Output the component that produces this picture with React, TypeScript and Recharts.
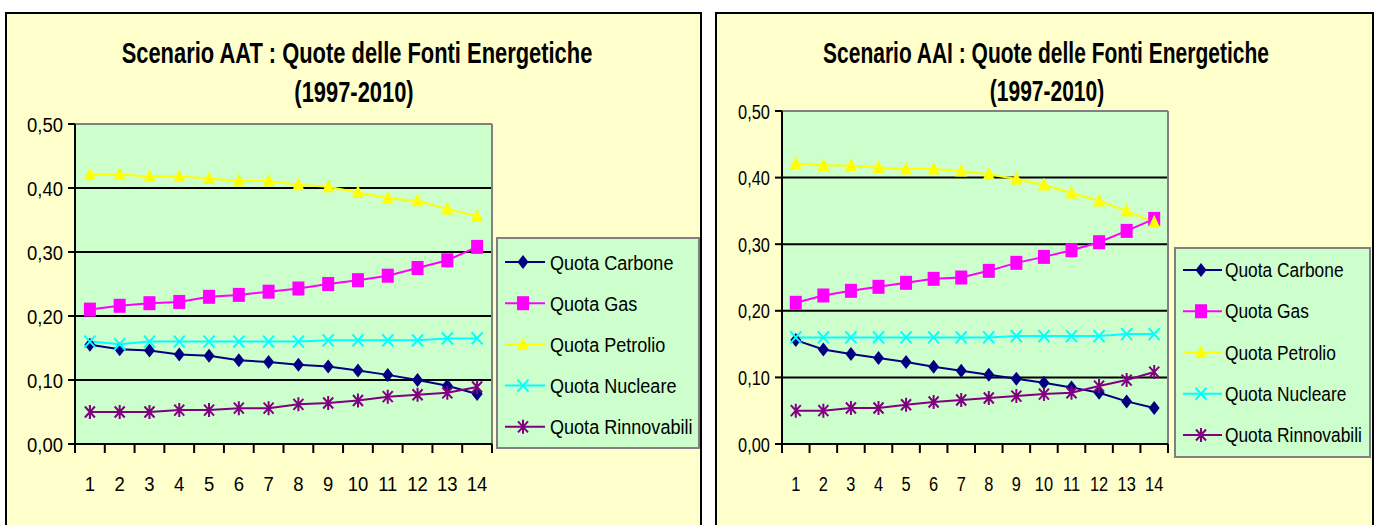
import React from 'react'
import {
  LineChart,
  Line,
  XAxis,
  YAxis,
  CartesianGrid,
  ReferenceLine,
} from 'recharts'

// 1997-2010, shown as period index
const PERIODS = [1, 2, 3, 4, 5, 6, 7, 8, 9, 10, 11, 12, 13, 14]
const BOUNDARIES = [0.5, ...PERIODS.map((p) => p + 0.5)]
const Y_TICKS = [0, 0.1, 0.2, 0.3, 0.4, 0.5]

const SERIES_NAMES = [
  'Quota Carbone',
  'Quota Gas',
  'Quota Petrolio',
  'Quota Nucleare',
  'Quota Rinnovabili',
]
const SERIES_COLORS = ['#000080', '#FF00FF', '#FFFF00', '#00FFFF', '#800080']
const SERIES_SHAPES = ['diamond', 'square', 'triangle', 'cross', 'star']

// Scenario AAT
const carboneAAT = [0.155, 0.148, 0.146, 0.14, 0.138, 0.131, 0.128, 0.124, 0.121, 0.115, 0.108, 0.1, 0.091, 0.078]
const gasAAT = [0.21, 0.216, 0.22, 0.222, 0.23, 0.233, 0.238, 0.243, 0.25, 0.256, 0.263, 0.275, 0.287, 0.308]
const petrolioAAT = [0.421, 0.421, 0.418, 0.418, 0.415, 0.411, 0.411, 0.405, 0.402, 0.393, 0.384, 0.38, 0.367, 0.356]
const nucleareAAT = [0.16, 0.156, 0.16, 0.16, 0.16, 0.16, 0.16, 0.16, 0.162, 0.162, 0.162, 0.162, 0.165, 0.165]
const rinnovabiliAAT = [0.05, 0.05, 0.05, 0.053, 0.053, 0.056, 0.056, 0.062, 0.064, 0.068, 0.074, 0.077, 0.08, 0.089]

// Scenario AAI
const carboneAAI = [0.156, 0.142, 0.135, 0.129, 0.123, 0.116, 0.11, 0.104, 0.098, 0.092, 0.085, 0.077, 0.064, 0.054]
const gasAAI = [0.212, 0.223, 0.23, 0.236, 0.242, 0.248, 0.25, 0.26, 0.272, 0.281, 0.291, 0.303, 0.32, 0.338]
const petrolioAAI = [0.421, 0.418, 0.418, 0.415, 0.413, 0.413, 0.41, 0.405, 0.398, 0.389, 0.377, 0.365, 0.35, 0.333]
const nucleareAAI = [0.16, 0.16, 0.16, 0.16, 0.16, 0.16, 0.16, 0.16, 0.162, 0.162, 0.162, 0.162, 0.165, 0.165]
const rinnovabiliAAI = [0.05, 0.05, 0.054, 0.054, 0.059, 0.063, 0.066, 0.069, 0.072, 0.075, 0.077, 0.087, 0.096, 0.108]

const FONT = '"Liberation Sans", Arial, sans-serif'
const KEYS = ['s0', 's1', 's2', 's3', 's4']

const buildData = (series: number[][]) =>
  PERIODS.map((p, i) => {
    const row: Record<string, number> = { x: p }
    series.forEach((s, k) => {
      row[KEYS[k]] = s[i]
    })
    return row
  })

const fmt = (v: number) => v.toFixed(2).replace('.', ',')

// squeezed text (the original picture is compressed horizontally)
function SqText({ x, y, fs, sx, anchor = 'start', bold = false, children }: any) {
  return (
    <text
      x={x}
      y={y}
      fontSize={fs}
      fontFamily={FONT}
      fontWeight={bold ? 'bold' : 'normal'}
      textAnchor={anchor}
      fill="#000"
      transform={`translate(${x} 0) scale(${sx} 1) translate(${-x} 0)`}
    >
      {children}
    </text>
  )
}

function Marker({ shape, cx, cy, color }: any) {
  if (cx == null || cy == null) return null
  switch (shape) {
    case 'diamond':
      return <polygon points={`${cx},${cy - 7} ${cx + 5.5},${cy} ${cx},${cy + 7} ${cx - 5.5},${cy}`} fill={color} />
    case 'square':
      return <rect x={cx - 6} y={cy - 7} width={12} height={14} fill={color} />
    case 'triangle':
      return <polygon points={`${cx},${cy - 7.5} ${cx + 6},${cy + 5.5} ${cx - 6},${cy + 5.5}`} fill={color} />
    case 'cross':
      return (
        <path
          d={`M${cx - 5.5},${cy - 6}L${cx + 5.5},${cy + 6}M${cx - 5.5},${cy + 6}L${cx + 5.5},${cy - 6}`}
          stroke={color}
          strokeWidth={2}
          fill="none"
        />
      )
    default:
      return (
        <path
          d={`M${cx - 5},${cy - 5.5}L${cx + 5},${cy + 5.5}M${cx - 5},${cy + 5.5}L${cx + 5},${cy - 5.5}M${cx},${cy - 7}L${cx},${cy + 7}`}
          stroke={color}
          strokeWidth={2}
          fill="none"
        />
      )
  }
}

interface PanelProps {
  left: number
  width: number
  plotLeft: number
  plotRight: number
  plotTop: number
  series: number[][]
  tickFs: number
  tickSx: number
}

function EnergyChart({ left, width, plotLeft, plotRight, plotTop, series, tickFs, tickSx }: PanelProps) {
  const data = buildData(series)
  const height = 525
  const plotBottom = 444
  const xAxisHeight = 60

  const YTick = ({ x, y, payload }: any) => (
    <SqText x={x} y={y + tickFs * 0.36} fs={tickFs} sx={tickSx} anchor="end">
      {fmt(payload.value)}
    </SqText>
  )

  const XTick = ({ x, y, payload }: any) => {
    const v = payload.value
    if (Number.isInteger(v)) {
      return (
        <SqText x={x} y={y + 38.5} fs={tickFs} sx={tickSx} anchor="middle">
          {String(v)}
        </SqText>
      )
    }
    return <line x1={x} x2={x} y1={y - 9} y2={y} stroke="#000" strokeWidth={2} />
  }

  return (
    <div style={{ position: 'absolute', left, top: 0 }}>
      <LineChart
        width={width}
        height={height}
        data={data}
        margin={{
          top: plotTop,
          right: width - plotRight,
          left: 0,
          bottom: height - plotBottom - xAxisHeight,
        }}
      >
        <CartesianGrid
          horizontal
          vertical={false}
          stroke="#000"
          strokeWidth={2}
          fill="#CCFFCC"
          fillOpacity={1}
        />
        <XAxis
          dataKey="x"
          type="number"
          domain={[0.5, 14.5]}
          ticks={BOUNDARIES.concat(PERIODS).sort((a, b) => a - b)}
          interval={0}
          tickLine={false}
          tickSize={9}
          tickMargin={0}
          height={xAxisHeight}
          axisLine={{ stroke: '#000', strokeWidth: 2 }}
          tick={<XTick />}
        />
        <YAxis
          type="number"
          domain={[0, 0.5]}
          ticks={Y_TICKS}
          interval={0}
          width={plotLeft}
          tickSize={7}
          tickMargin={5}
          tickLine={{ stroke: '#000', strokeWidth: 2 }}
          axisLine={{ stroke: '#000', strokeWidth: 2 }}
          tick={<YTick />}
        />
        <ReferenceLine y={0.5} stroke="#808080" strokeWidth={2} />
        <ReferenceLine x={14.5} stroke="#808080" strokeWidth={2} />
        {KEYS.map((k, i) => (
          <Line
            key={k}
            dataKey={k}
            name={SERIES_NAMES[i]}
            type="linear"
            stroke={SERIES_COLORS[i]}
            strokeWidth={2}
            isAnimationActive={false}
            activeDot={false}
            dot={(p: any) => (
              <Marker
                key={`${k}-${p.index}`}
                shape={SERIES_SHAPES[i]}
                cx={p.cx}
                cy={p.cy}
                color={SERIES_COLORS[i]}
              />
            )}
          />
        ))}
      </LineChart>
    </div>
  )
}

function LegendBox({ x, y, w, h, firstY, step, lineX1, lineX2, markerX, textX, fs, sx }: any) {
  return (
    <g>
      <rect x={x} y={y} width={w} height={h} fill="#CCFFCC" stroke="#808080" strokeWidth={2} />
      {SERIES_NAMES.map((name, i) => {
        const cy = firstY + i * step
        return (
          <g key={name}>
            <line x1={lineX1} x2={lineX2} y1={cy} y2={cy} stroke={SERIES_COLORS[i]} strokeWidth={2} />
            <Marker shape={SERIES_SHAPES[i]} cx={markerX} cy={cy} color={SERIES_COLORS[i]} />
            <SqText x={textX} y={cy + fs * 0.36} fs={fs} sx={sx}>
              {name}
            </SqText>
          </g>
        )
      })}
    </g>
  )
}

export default function App() {
  return (
    <div
      style={{
        position: 'absolute',
        left: 0,
        top: 0,
        width: 1379,
        height: 525,
        overflow: 'hidden',
        background: '#fff',
      }}
    >
      {/* panel frames */}
      <div
        style={{
          position: 'absolute',
          left: 5,
          top: 12,
          width: 697,
          height: 540,
          boxSizing: 'border-box',
          border: '2px solid #000',
          background: '#FFFFCC',
        }}
      />
      <div
        style={{
          position: 'absolute',
          left: 715,
          top: 12,
          width: 659,
          height: 540,
          boxSizing: 'border-box',
          border: '2px solid #000',
          background: '#FFFFCC',
        }}
      />

      <EnergyChart
        left={0}
        width={705}
        plotLeft={75}
        plotRight={492}
        plotTop={124}
        series={[carboneAAT, gasAAT, petrolioAAT, nucleareAAT, rinnovabiliAAT]}
        tickFs={21}
        tickSx={0.88}
      />
      <EnergyChart
        left={705}
        width={674}
        plotLeft={77}
        plotRight={463}
        plotTop={111}
        series={[carboneAAI, gasAAI, petrolioAAI, nucleareAAI, rinnovabiliAAI]}
        tickFs={21}
        tickSx={0.78}
      />

      {/* titles and legends */}
      <svg
        width={1379}
        height={525}
        style={{ position: 'absolute', left: 0, top: 0, pointerEvents: 'none' }}
      >
        <SqText x={357} y={63} fs={30} sx={0.73} anchor="middle" bold>
          Scenario AAT : Quote delle Fonti Energetiche
        </SqText>
        <SqText x={354} y={102} fs={30} sx={0.73} anchor="middle" bold>
          (1997-2010)
        </SqText>
        <SqText x={1046} y={63} fs={30} sx={0.7} anchor="middle" bold>
          Scenario AAI : Quote delle Fonti Energetiche
        </SqText>
        <SqText x={1047} y={101} fs={30} sx={0.7} anchor="middle" bold>
          (1997-2010)
        </SqText>

        <LegendBox
          x={497}
          y={238}
          w={202}
          h={210}
          firstY={262}
          step={41.2}
          lineX1={505}
          lineX2={545}
          markerX={523}
          textX={550}
          fs={21}
          sx={0.86}
        />
        <LegendBox
          x={1175}
          y={248}
          w={195}
          h={209}
          firstY={270}
          step={41.25}
          lineX1={1183}
          lineX2={1222}
          markerX={1201}
          textX={1225}
          fs={19.5}
          sx={0.89}
        />
      </svg>
    </div>
  )
}
